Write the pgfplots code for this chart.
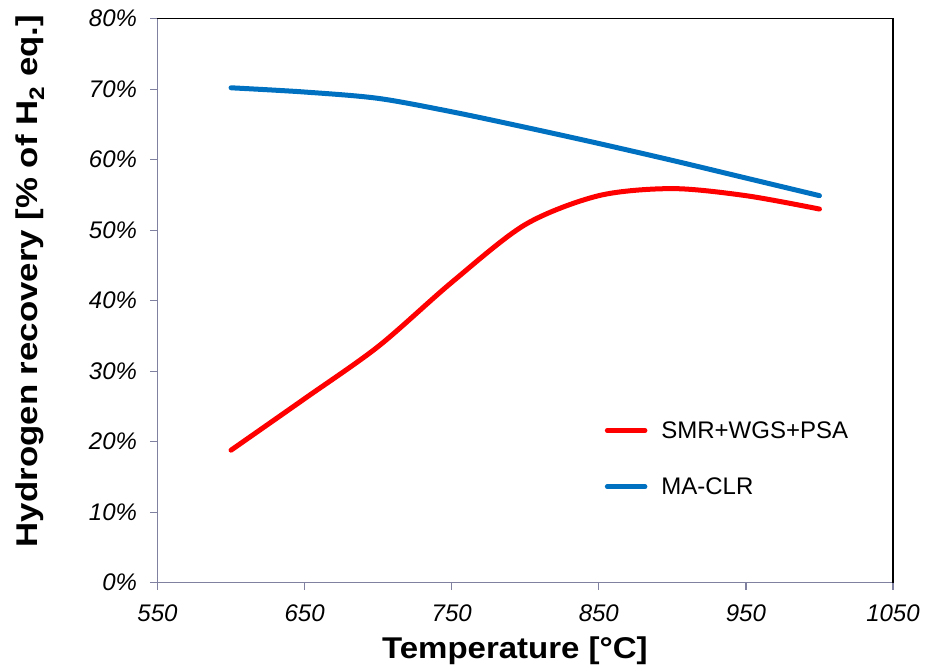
\documentclass[border=0pt]{standalone}
\usepackage{fontspec}
\setmainfont{Liberation Sans}
\usepackage{pgfplots}
\usepackage{graphicx}
\pgfplotsset{compat=1.18}
\definecolor{axgray}{RGB}{128,128,160}
\definecolor{myred}{RGB}{255,0,0}
\definecolor{myblue}{RGB}{0,112,192}
\begin{document}
\begin{tikzpicture}
\path (-157.5pt,-88.3pt) rectangle (768.5pt,582.7pt);
\begin{axis}[
  at={(0,0)}, anchor=south west,
  scale only axis,
  width=735.5pt, height=564pt,
  xmin=550, xmax=1050, ymin=0, ymax=80,
  axis lines=left,
  axis line style={axgray, line width=1.2pt, -},
  xtick={550,650,750,850,950,1050},
  xticklabels={550,650,750,850,950,1050},
  ytick={0,10,20,30,40,50,60,70,80},
  yticklabels={0\%,10\%,20\%,30\%,40\%,50\%,60\%,70\%,80\%},
  tick align=outside,
  major tick length=7pt,
  tick style={axgray, line width=1.2pt},
  ticklabel style={font=\fontsize{24}{28}\selectfont\itshape},
  yticklabel style={xshift=-10pt},
  xticklabel style={yshift=-12pt},
  xlabel={\scalebox{1.1}[1]{Temperature [°C]}},
  ylabel={\scalebox{1.16}[1]{Hydrogen recovery [\% of H\textsubscript{2} eq.]}},
  label style={font=\fontsize{30}{34}\selectfont\bfseries},
  xlabel style={at={(axis description cs:0.486,-0.121)}, anchor=center},
  ylabel style={at={(axis description cs:-0.173,0.535)}, anchor=center, rotate=0},
  legend style={draw=none, fill=none, at={(axis description cs:0.608,0.22)}, anchor=west,
    font=\fontsize{24}{28}\selectfont, row sep=34pt, column sep=12pt, inner sep=0pt},
  legend cell align=left,
  legend image code/.code={\draw[#1, line width=4.5pt] (0pt,0pt) -- (38pt,0pt);},
  clip=false,
]
\draw[black, line width=1.2pt] (rel axis cs:0,1) -- (rel axis cs:1,1) -- (rel axis cs:1,0);
\addplot[myred, line width=5pt, smooth, line cap=round] coordinates {
(600,18.8) (650,26.1) (700,33.5) (750,42.6) (800,50.8) (850,54.9) (900,55.9) (950,54.9) (1000,53.0)};
\addlegendentry{SMR+WGS+PSA}
\addplot[myblue, line width=5pt, smooth, line cap=round] coordinates {
(600,70.2) (650,69.6) (700,68.7) (750,66.8) (800,64.6) (850,62.3) (900,59.9) (950,57.4) (1000,54.9)};
\addlegendentry{MA-CLR}
\end{axis}
\end{tikzpicture}
\end{document}
